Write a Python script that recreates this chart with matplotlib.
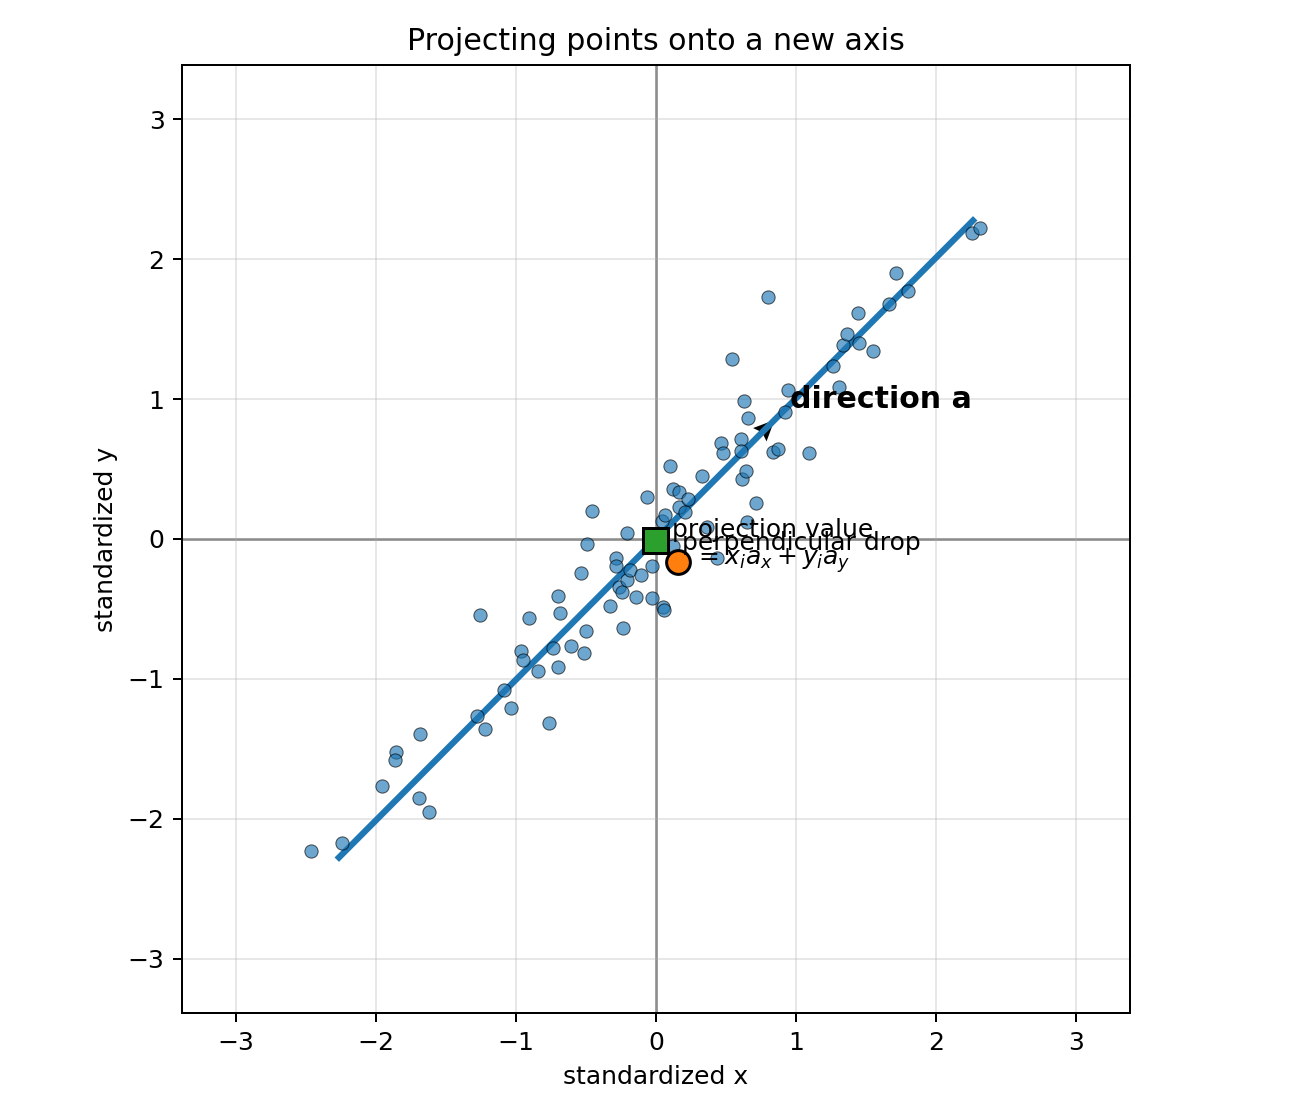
import numpy as np
import matplotlib.pyplot as plt

# standardized data points
xs = [-2.464, -2.243, -1.957, -1.857, -1.864, -1.686, -1.693, -1.621, -1.257, -1.279,
      -1.221, -1.086, -1.036, -0.964, -0.950, -0.907, -0.843, -0.764, -0.736, -0.700,
      -0.686, -0.700, -0.607, -0.536, -0.500, -0.514, -0.493, -0.457, -0.329, -0.286,
      -0.286, -0.264, -0.243, -0.236, -0.207, -0.207, -0.186, -0.143, -0.107, -0.064,
      -0.029, -0.029, 0.050, 0.057, 0.043, 0.064, 0.100, 0.121, 0.121, 0.164,
      0.164, 0.207, 0.229, 0.329, 0.364, 0.436, 0.464, 0.479, 0.543, 0.607,
      0.607, 0.614, 0.629, 0.643, 0.650, 0.657, 0.714, 0.800, 0.836, 0.871,
      0.921, 0.943, 1.093, 1.264, 1.307, 1.336, 1.364, 1.443, 1.450, 1.550,
      1.664, 1.714, 1.800, 2.257, 2.314]
ys = [-2.226, -2.169, -1.768, -1.525, -1.582, -1.396, -1.847, -1.947, -0.544, -1.267,
      -1.360, -1.081, -1.210, -0.802, -0.866, -0.565, -0.945, -1.317, -0.780, -0.408,
      -0.530, -0.916, -0.766, -0.243, -0.659, -0.816, -0.036, 0.200, -0.480, -0.136,
      -0.193, -0.344, -0.379, -0.637, 0.043, -0.293, -0.222, -0.415, -0.258, 0.301,
      -0.193, -0.422, -0.487, -0.508, 0.129, 0.172, 0.523, 0.358, -0.050, 0.336,
      0.229, 0.193, 0.286, 0.451, 0.086, -0.136, 0.687, 0.616, 1.288, 0.716,
      0.630, 0.429, 0.988, 0.487, 0.122, 0.866, 0.258, 1.732, 0.623, 0.644,
      0.909, 1.067, 0.616, 1.238, 1.088, 1.389, 1.467, 1.611, 1.403, 1.346,
      1.682, 1.897, 1.775, 2.183, 2.219]

a = np.array([0.7055, 0.7087])       # direction of the new axis
t_line = [-3.21, 3.21]               # extent of the drawn axis along a
arrow_len = 1.2
pt = np.array([0.157, -0.165])       # highlighted point
lim = 3.386
ticks = [-3, -2, -1, 0, 1, 2, 3]

proj_val = pt @ a
proj = proj_val * a

fig = plt.figure(figsize=(7.2, 6.2), dpi=180)
ax = fig.add_axes([182 / 1296, 103 / 1116, 948 / 1296, 948 / 1116])

ax.axhline(0, color="gray", lw=1, zorder=1)
ax.axvline(0, color="gray", lw=1, zorder=1)

ax.scatter(xs, ys, s=28, color="tab:blue", alpha=0.65, edgecolors="k", linewidths=0.4, zorder=3)

t = np.array(t_line)
ax.quiver(0, 0, a[0] * arrow_len, a[1] * arrow_len, angles="xy", scale_units="xy", scale=1,
          color="k", width=0.004, headwidth=5, headlength=5.5, headaxislength=4.8, zorder=1.5)
ax.plot(t * a[0], t * a[1], color="tab:blue", lw=2.5, zorder=2)
ax.text(0.96, 1.0, "direction a", fontsize=12, fontweight="bold", ha="left", va="center", zorder=6)

# perpendicular drop
ax.plot([pt[0], proj[0]], [pt[1], proj[1]], "--", color="tab:orange", lw=1.5, zorder=4)
ax.plot(proj[0], proj[1], "s", ms=10, color="tab:green", mec="k", mew=1.2, zorder=5)
ax.plot(pt[0], pt[1], "o", ms=9.5, color="tab:orange", mec="k", mew=1.2, zorder=5)
ax.text(0.114, -0.186, "projection value\n$= x_i a_x + y_i a_y$", fontsize=10,
        ha="left", va="baseline", multialignment="center", zorder=6)
ax.text(0.186, -0.08, "perpendicular drop", fontsize=10, ha="left", va="baseline", zorder=6)

ax.set_xlim(-lim, lim)
ax.set_ylim(-lim, lim)
ax.set_xticks(ticks)
ax.set_yticks(ticks)
ax.set_aspect("equal")
ax.grid(alpha=0.3)
ax.set_xlabel("standardized x")
ax.set_ylabel("standardized y")
ax.set_title("Projecting points onto a new axis")

fig.savefig("out.png", dpi=180)
